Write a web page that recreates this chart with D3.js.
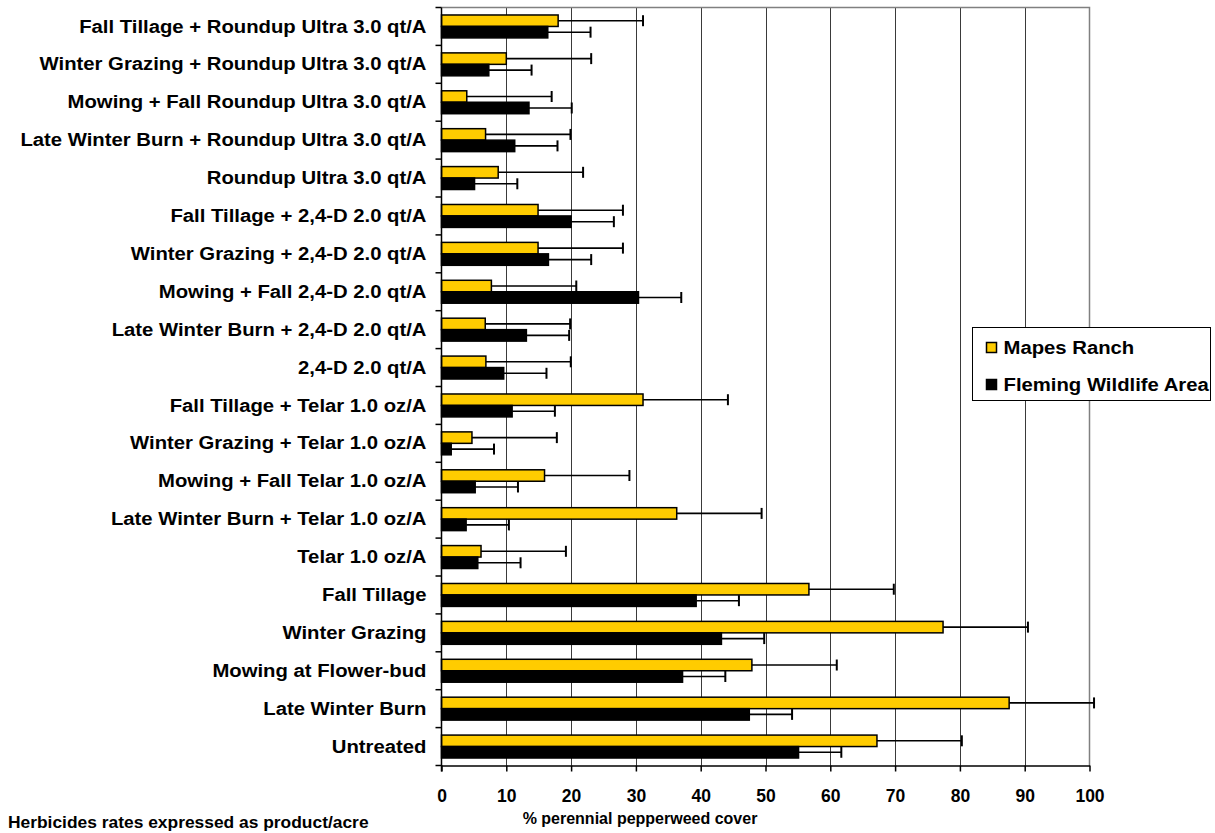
<!DOCTYPE html>
<html>
<head>
<meta charset="utf-8">
<script src="https://cdn.jsdelivr.net/npm/d3@7"></script>
<style>
  html, body { margin: 0; padding: 0; background: #fff; }
  svg { display: block; font-family: "Liberation Sans", Arial, sans-serif; font-weight: bold; }
</style>
</head>
<body>
<svg id="chart" width="1215" height="833"></svg>
<script>
// Treatments, listed top to bottom
const categories = [
  "Fall Tillage + Roundup Ultra 3.0 qt/A",
  "Winter Grazing + Roundup Ultra 3.0 qt/A",
  "Mowing + Fall Roundup Ultra 3.0 qt/A",
  "Late Winter Burn + Roundup Ultra 3.0 qt/A",
  "Roundup Ultra 3.0 qt/A",
  "Fall Tillage + 2,4-D 2.0 qt/A",
  "Winter Grazing + 2,4-D 2.0 qt/A",
  "Mowing + Fall 2,4-D 2.0 qt/A",
  "Late Winter Burn + 2,4-D 2.0 qt/A",
  "2,4-D 2.0 qt/A",
  "Fall Tillage + Telar 1.0 oz/A",
  "Winter Grazing + Telar 1.0 oz/A",
  "Mowing + Fall Telar 1.0 oz/A",
  "Late Winter Burn + Telar 1.0 oz/A",
  "Telar 1.0 oz/A",
  "Fall Tillage",
  "Winter Grazing",
  "Mowing at Flower-bud",
  "Late Winter Burn",
  "Untreated"
];

const seriesNames = ["Mapes Ranch", "Fleming Wildlife Area"];

// % perennial pepperweed cover
const mapesRanch = [18.0, 10.0, 3.9, 6.8, 8.75, 14.9, 14.9, 7.7, 6.75, 6.85,
                    31.1, 4.7, 15.9, 36.3, 6.1, 56.7, 77.4, 47.9, 87.6, 67.2];
const flemingWildlife = [16.4, 7.3, 13.5, 11.3, 5.1, 20.0, 16.5, 30.4, 13.1, 9.6,
                         10.9, 1.5, 5.2, 3.8, 5.6, 39.3, 43.2, 37.2, 47.5, 55.1];

// upper error bar lengths
const mapesErr = [13.1, 13.1, 13.1, 13.1, 13.1, 13.1, 13.1, 13.1, 13.1, 13.1,
                  13.1, 13.1, 13.1, 13.1, 13.1, 13.1, 13.1, 13.1, 13.1, 13.1];
const flemingErr = [6.6, 6.6, 6.6, 6.6, 6.6, 6.6, 6.6, 6.6, 6.6, 6.6,
                    6.6, 6.6, 6.6, 6.6, 6.6, 6.6, 6.6, 6.6, 6.6, 6.6];

const xTicks = [0, 10, 20, 30, 40, 50, 60, 70, 80, 90, 100];

const colors = ["#FFCC00", "#000000"];

// labels are set in a slightly widened face
const labelSize = 17.5;
const labelStretch = 1.16;

const svg = d3.select("#chart");

const plot = { left: 441.5, right: 1089.5, top: 7.5, bottom: 765.5 };

const x = d3.scaleLinear().domain([0, 100]).range([plot.left, plot.right]);

const pi = 0.395;
const y = d3.scaleBand()
  .domain(categories)
  .range([plot.top, plot.bottom])
  .paddingInner(pi)
  .paddingOuter(pi / 2);

const ySub = d3.scaleBand()
  .domain(seriesNames)
  .range([0, y.bandwidth()]);

// gridlines
svg.append("g")
  .selectAll("line")
  .data(xTicks.filter(d => d > 0 && d < 100))
  .join("line")
  .attr("x1", d => Math.round(x(d)) + 0.5)
  .attr("x2", d => Math.round(x(d)) + 0.5)
  .attr("y1", plot.top)
  .attr("y2", plot.bottom)
  .attr("stroke", "#3a3a3a")
  .attr("stroke-width", 1);

// frame top and right
svg.append("path")
  .attr("d", `M${plot.left},${plot.top}H${plot.right}V${plot.bottom}`)
  .attr("fill", "none")
  .attr("stroke", "#808080")
  .attr("stroke-width", 1.5);

// rows of bars
const data = categories.map((c, i) => ({
  cat: c,
  values: [
    { s: seriesNames[0], v: mapesRanch[i], e: mapesErr[i], color: colors[0] },
    { s: seriesNames[1], v: flemingWildlife[i], e: flemingErr[i], color: colors[1] }
  ]
}));

const rows = svg.append("g")
  .selectAll("g")
  .data(data)
  .join("g")
  .attr("transform", d => `translate(0,${y(d.cat)})`);

rows.selectAll("rect")
  .data(d => d.values)
  .join("rect")
  .attr("x", x(0))
  .attr("y", d => ySub(d.s))
  .attr("width", d => x(d.v) - x(0))
  .attr("height", ySub.bandwidth())
  .attr("fill", d => d.color)
  .attr("stroke", "#000")
  .attr("stroke-width", 1.5);

// error bars (upper only)
const eb = rows.selectAll("g.err")
  .data(d => d.values)
  .join("g")
  .attr("class", "err");

eb.append("line")
  .attr("x1", d => x(d.v))
  .attr("x2", d => x(d.v + d.e))
  .attr("y1", d => ySub(d.s) + ySub.bandwidth() / 2)
  .attr("y2", d => ySub(d.s) + ySub.bandwidth() / 2)
  .attr("stroke", "#000")
  .attr("stroke-width", 1.6);

eb.append("line")
  .attr("x1", d => x(d.v + d.e))
  .attr("x2", d => x(d.v + d.e))
  .attr("y1", d => ySub(d.s) + ySub.bandwidth() / 2 - 5.5)
  .attr("y2", d => ySub(d.s) + ySub.bandwidth() / 2 + 5.5)
  .attr("stroke", "#000")
  .attr("stroke-width", 2);

// x axis
const xAxis = svg.append("g")
  .attr("transform", `translate(0,${plot.bottom})`)
  .call(d3.axisBottom(x).tickValues(xTicks).tickSize(6).tickPadding(18).tickSizeOuter(0));
xAxis.select(".domain").attr("stroke", "#000").attr("stroke-width", 1.5);
xAxis.selectAll(".tick line").attr("stroke", "#000").attr("stroke-width", 1.5);
xAxis.selectAll("text")
  .attr("font-size", 17.5)
  .attr("font-weight", "bold")
  .attr("font-family", "Liberation Sans, Arial, sans-serif")
  .attr("fill", "#000");

// y axis line and boundary ticks
svg.append("line")
  .attr("x1", plot.left).attr("x2", plot.left)
  .attr("y1", plot.top).attr("y2", plot.bottom + 6)
  .attr("stroke", "#000").attr("stroke-width", 1.5);

const boundaries = d3.range(categories.length + 1).map(i => plot.top + i * y.step());
svg.append("g")
  .selectAll("line")
  .data(boundaries)
  .join("line")
  .attr("x1", plot.left - 6)
  .attr("x2", plot.left)
  .attr("y1", d => d)
  .attr("y2", d => d)
  .attr("stroke", "#000")
  .attr("stroke-width", 1.5);

// category labels
svg.append("g")
  .selectAll("text")
  .data(categories)
  .join("text")
  .attr("transform", d => `translate(${plot.left - 15},${y(d) + y.bandwidth() / 2}) scale(${labelStretch},1)`)
  .attr("dy", "0.35em")
  .attr("text-anchor", "end")
  .attr("font-size", labelSize)
  .text(d => d);

// axis title and footnote
svg.append("text")
  .attr("x", 640)
  .attr("y", 824)
  .attr("text-anchor", "middle")
  .attr("font-size", 16)
  .text("% perennial pepperweed cover");

svg.append("text")
  .attr("x", 8)
  .attr("y", 828)
  .attr("font-size", 17.4)
  .text("Herbicides rates expressed as product/acre");

// legend
const lg = svg.append("g").attr("transform", "translate(972.5,327.5)");
lg.append("rect")
  .attr("width", 238)
  .attr("height", 73)
  .attr("fill", "#fff")
  .attr("stroke", "#000")
  .attr("stroke-width", 1);

const items = lg.selectAll("g.item")
  .data(seriesNames)
  .join("g")
  .attr("class", "item")
  .attr("transform", (d, i) => `translate(0,${20 + i * 37})`);

items.append("rect")
  .attr("x", 14)
  .attr("y", -5)
  .attr("width", 10)
  .attr("height", 10)
  .attr("fill", (d, i) => colors[i])
  .attr("stroke", "#000")
  .attr("stroke-width", 1.5);

items.append("text")
  .attr("transform", `translate(31,0) scale(${labelStretch},1)`)
  .attr("dy", "0.35em")
  .attr("font-size", labelSize)
  .text(d => d);
</script>
</body>
</html>
